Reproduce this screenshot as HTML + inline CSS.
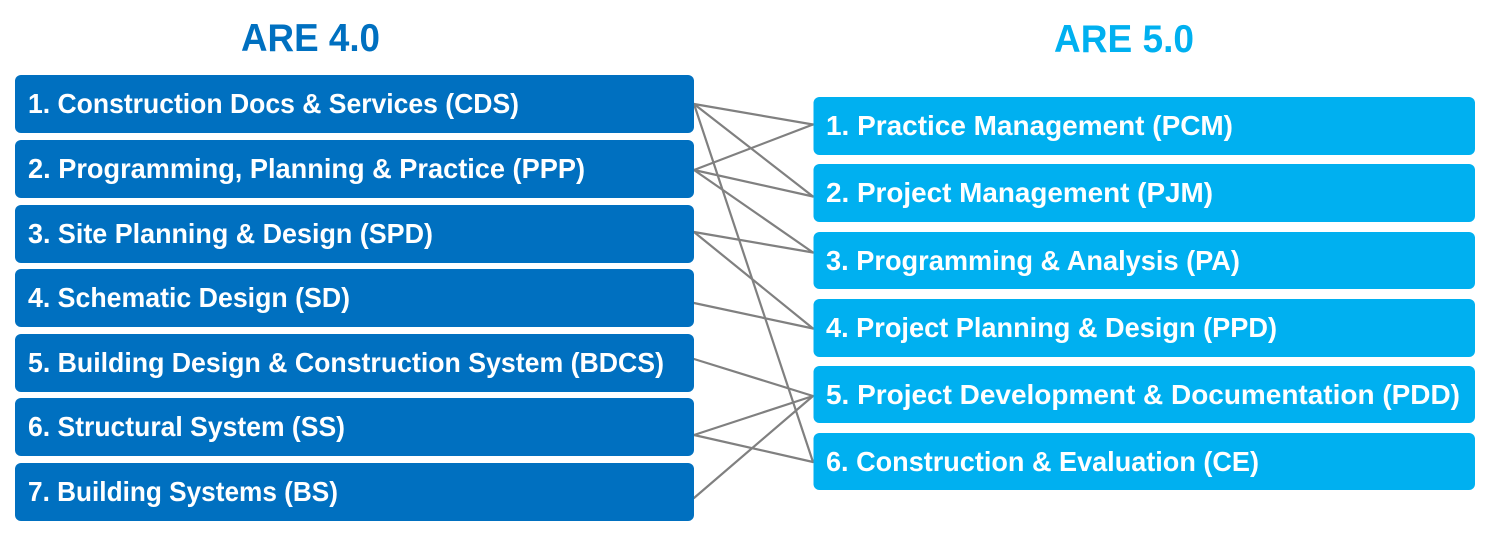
<!DOCTYPE html>
<html>
<head>
<meta charset="utf-8">
<style>
  html, body { margin: 0; padding: 0; background: #ffffff; }
  body { width: 1486px; height: 539px; overflow: hidden; }
  svg { display: block; }
  text { font-family: "Liberation Sans", "DejaVu Sans", sans-serif; font-weight: bold; }
</style>
</head>
<body>
<svg width="1486" height="539" viewBox="0 0 1486 539" xmlns="http://www.w3.org/2000/svg">
  <rect x="0" y="0" width="1486" height="539" fill="#ffffff"/>

  <!-- Titles -->
  <text x="241" y="51" font-size="39" fill="#0070C0" textLength="139" lengthAdjust="spacingAndGlyphs">ARE 4.0</text>
  <text x="1054" y="52" font-size="39" fill="#00B0F0" textLength="140" lengthAdjust="spacingAndGlyphs">ARE 5.0</text>

  <!-- Connectors -->
  <g stroke="#808080" stroke-width="2.2" fill="none" stroke-linecap="round">
    <line x1="694" y1="104" x2="813" y2="124.5"/>
    <line x1="694" y1="104" x2="813" y2="196.5"/>
    <line x1="694" y1="104" x2="813" y2="462"/>
    <line x1="694" y1="170" x2="813" y2="124.5"/>
    <line x1="694" y1="170" x2="813" y2="196.5"/>
    <line x1="694" y1="170" x2="813" y2="252.5"/>
    <line x1="694" y1="232" x2="813" y2="252.5"/>
    <line x1="694" y1="232" x2="813" y2="328.5"/>
    <line x1="694" y1="303" x2="813" y2="328.5"/>
    <line x1="694" y1="359" x2="813" y2="396"/>
    <line x1="694" y1="435" x2="813" y2="396"/>
    <line x1="694" y1="435" x2="813" y2="462"/>
    <line x1="694" y1="498" x2="813" y2="396"/>
  </g>

  <!-- Left boxes (ARE 4.0) -->
  <g fill="#0070C0">
    <rect x="15" y="75" width="679" height="58" rx="6"/>
    <rect x="15" y="140" width="679" height="58" rx="6"/>
    <rect x="15" y="205" width="679" height="58" rx="6"/>
    <rect x="15" y="269" width="679" height="58" rx="6"/>
    <rect x="15" y="334" width="679" height="58" rx="6"/>
    <rect x="15" y="398" width="679" height="58" rx="6"/>
    <rect x="15" y="463" width="679" height="58" rx="6"/>
  </g>
  <g fill="#ffffff" font-size="28">
    <text x="28" y="113" textLength="491" lengthAdjust="spacingAndGlyphs">1. Construction Docs &amp; Services (CDS)</text>
    <text x="28" y="178" textLength="557" lengthAdjust="spacingAndGlyphs">2. Programming, Planning &amp; Practice (PPP)</text>
    <text x="28" y="243" textLength="405" lengthAdjust="spacingAndGlyphs">3. Site Planning &amp; Design (SPD)</text>
    <text x="28" y="307" textLength="322" lengthAdjust="spacingAndGlyphs">4. Schematic Design (SD)</text>
    <text x="28" y="372" textLength="636" lengthAdjust="spacingAndGlyphs">5. Building Design &amp; Construction System (BDCS)</text>
    <text x="28" y="436" textLength="317" lengthAdjust="spacingAndGlyphs">6. Structural System (SS)</text>
    <text x="28" y="501" textLength="310" lengthAdjust="spacingAndGlyphs">7. Building Systems (BS)</text>
  </g>

  <!-- Right boxes (ARE 5.0) -->
  <g fill="#00B0F0">
    <rect x="813.5" y="97" width="661.5" height="58" rx="6"/>
    <rect x="813.5" y="164" width="661.5" height="58" rx="6"/>
    <rect x="813.5" y="232" width="661.5" height="57" rx="6"/>
    <rect x="813.5" y="299" width="661.5" height="58" rx="6"/>
    <rect x="813.5" y="366" width="661.5" height="57" rx="6"/>
    <rect x="813.5" y="433" width="661.5" height="57" rx="6"/>
  </g>
  <g fill="#ffffff" font-size="28">
    <text x="826" y="135" textLength="407" lengthAdjust="spacingAndGlyphs">1. Practice Management (PCM)</text>
    <text x="826" y="202" textLength="387" lengthAdjust="spacingAndGlyphs">2. Project Management (PJM)</text>
    <text x="826" y="270" textLength="414" lengthAdjust="spacingAndGlyphs">3. Programming &amp; Analysis (PA)</text>
    <text x="826" y="337" textLength="451" lengthAdjust="spacingAndGlyphs">4. Project Planning &amp; Design (PPD)</text>
    <text x="826" y="404" textLength="634" lengthAdjust="spacingAndGlyphs">5. Project Development &amp; Documentation (PDD)</text>
    <text x="826" y="471" textLength="433" lengthAdjust="spacingAndGlyphs">6. Construction &amp; Evaluation (CE)</text>
  </g>
</svg>
</body>
</html>
